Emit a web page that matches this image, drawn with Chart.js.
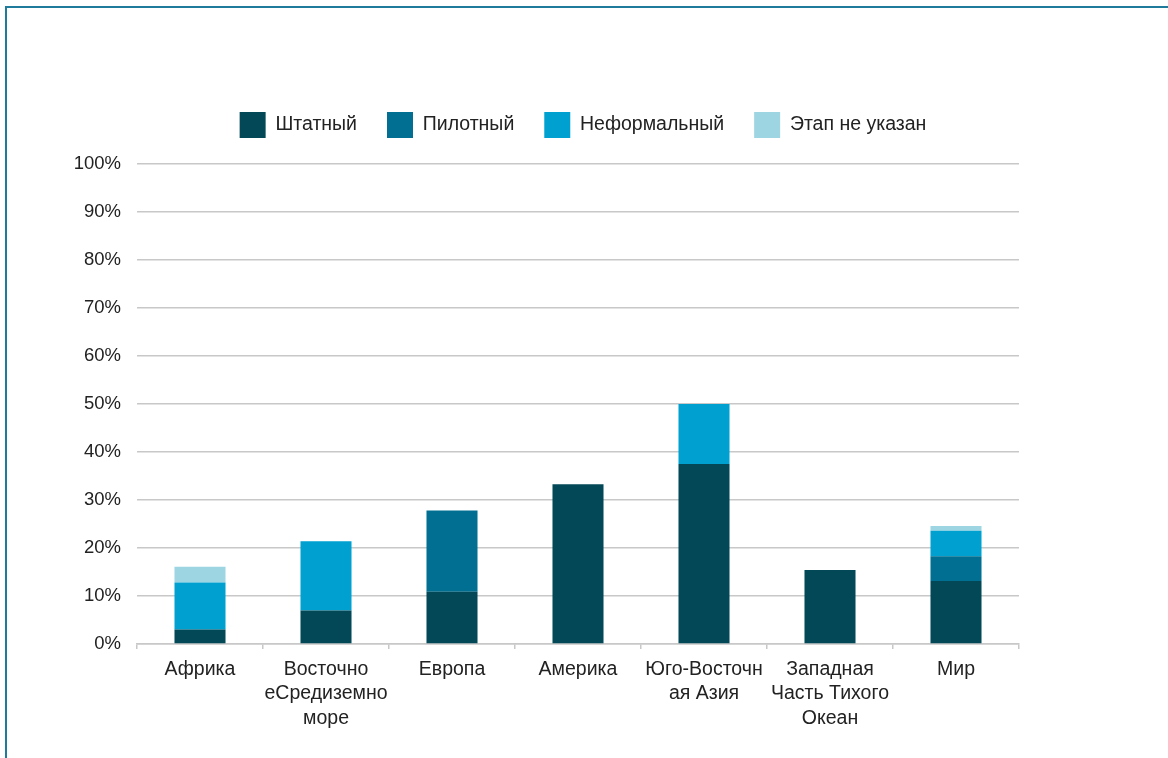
<!DOCTYPE html>
<html>
<head>
<meta charset="utf-8">
<script src="https://cdn.jsdelivr.net/npm/chart.js@4/dist/chart.umd.min.js"></script>
<style>
  html, body { margin: 0; padding: 0; background: #ffffff; overflow: hidden; }
  #frame { position: absolute; left: 5px; top: 6px; width: 1300px; height: 900px;
           border-left: 2px solid #1f7b9b; border-top: 2px solid #1f7b9b; }
  #wrap { position: absolute; left: 0; top: 0; width: 1168px; height: 758px; }
</style>
</head>
<body>
<div id="frame"></div>
<div id="wrap"><canvas id="c" width="1168" height="758"></canvas></div>
<script>
const categories = [
  ['Африка'],
  ['Восточно', 'еСредиземно', 'море'],
  ['Европа'],
  ['Америка'],
  ['Юго-Восточн', 'ая Азия'],
  ['Западная', 'Часть Тихого', 'Океан'],
  ['Мир']
];
const seriesNames = ['Штатный', 'Пилотный', 'Неформальный', 'Этап не указан'];
const shtatny   = [3.0, 7.0, 10.9, 33.3, 37.5, 15.4, 13.1];
const pilotny   = [null, null, 16.9, null, null, null, 5.2];
const neformal  = [9.8, 14.4, null, null, 12.5, null, 5.3];
const etapNet   = [3.3, null, null, null, null, null, 1.0];
const yTicks = [0, 10, 20, 30, 40, 50, 60, 70, 80, 90, 100];

const colors = ['#034857', '#006f91', '#00a1d0', '#9dd5e3'];
const FONT = "'Liberation Sans', Arial, Helvetica, sans-serif";

const legendSpace = {
  id: 'legendSpace',
  beforeInit(chart) {
    const lg = chart.legend;
    if (lg && !lg._patched) {
      const orig = lg.fit;
      lg.fit = function () { orig.call(this); this.height += 16; };
      lg._patched = true;
    }
  },
  afterLayout(chart) {
    const lg = chart.legend;
    if (lg) { lg.left = 0; lg.right = 1166; }
  }
};

const seriesData = [shtatny, pilotny, neformal, etapNet];
new Chart(document.getElementById('c'), {
  type: 'bar',
  data: {
    labels: categories,
    datasets: seriesNames.map((n, i) => ({
      label: n,
      data: seriesData[i],
      backgroundColor: colors[i],
      borderWidth: 0,
      barPercentage: 0.405,
      categoryPercentage: 1.0
    }))
  },
  options: {
    responsive: false,
    animation: false,
    layout: { padding: { top: 82, left: 0, right: 149, bottom: 14 } },
    plugins: {
      legend: {
        position: 'top',
        labels: {
          boxWidth: 26, boxHeight: 26, padding: 30,
          color: '#222222',
          font: { family: FONT, size: 19.5 }
        }
      },
      tooltip: { enabled: false }
    },
    scales: {
      x: {
        stacked: true,
        grid: { display: true, drawOnChartArea: false, drawTicks: true, tickLength: 5,
                color: '#c8c8c8', lineWidth: 1.5, offset: true },
        border: { display: true, color: '#c8c8c8', width: 1.5 },
        ticks: { color: '#222222', padding: 8, maxRotation: 0, autoSkip: false,
                 font: { family: FONT, size: 19.5, lineHeight: 1.26 } },
        afterFit(scale) { scale.height = 100; }
      },
      y: {
        stacked: true,
        min: 0, max: 100,
        afterBuildTicks(scale) { scale.ticks = yTicks.map(v => ({ value: v })); },
        grid: { color: '#c8c8c8', lineWidth: 1.5, drawTicks: false },
        border: { display: false },
        ticks: { color: '#222222', padding: 16,
                 font: { family: FONT, size: 18.5 },
                 callback: v => v + '%' },
        afterFit(scale) { scale.width = 137; }
      }
    }
  },
  plugins: [legendSpace]
});
</script>
</body>
</html>
